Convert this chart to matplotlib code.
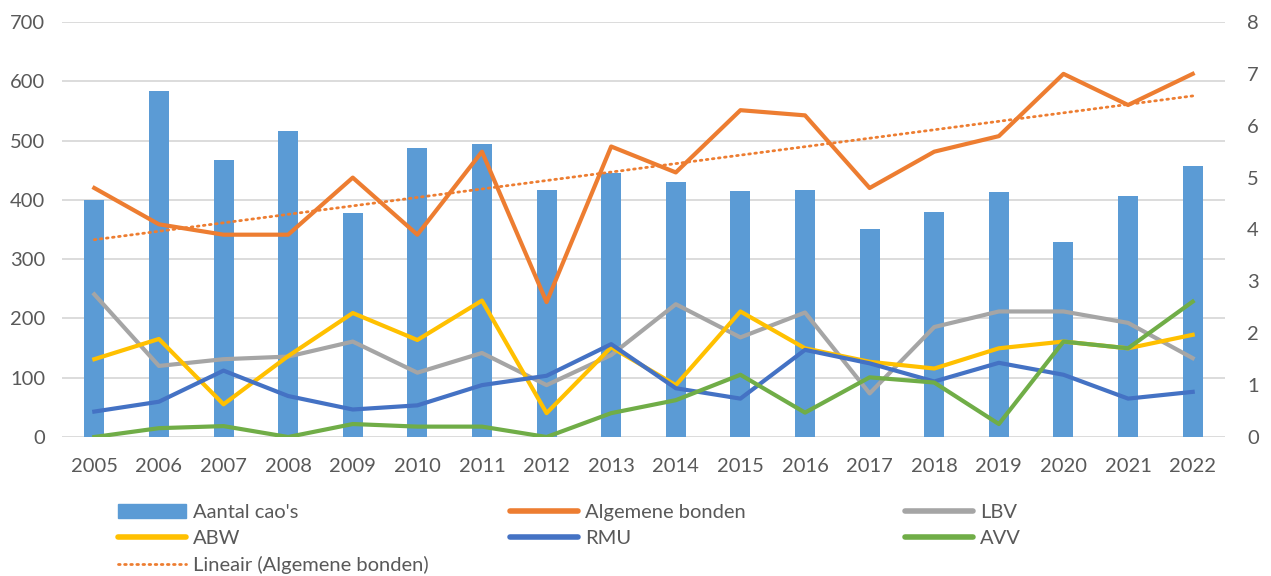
import matplotlib.pyplot as plt
from matplotlib.lines import Line2D
from matplotlib.patches import Patch
import numpy as np

years = list(range(2005, 2023))
aantal_caos = [400, 583, 467, 516, 378, 487, 494, 416, 445, 430, 415, 417, 351, 380, 414, 329, 407, 457]
algemene_bonden = [4.8, 4.1, 3.9, 3.9, 5.0, 3.9, 5.5, 2.6, 5.6, 5.1, 6.3, 6.2, 4.8, 5.5, 5.8, 7.0, 6.4, 7.0]
lbv = [2.75, 1.37, 1.5, 1.55, 1.84, 1.24, 1.62, 1.0, 1.58, 2.56, 1.92, 2.4, 0.84, 2.12, 2.42, 2.42, 2.2, 1.52]
abw = [1.5, 1.89, 0.63, 1.56, 2.39, 1.87, 2.63, 0.46, 1.73, 1.0, 2.42, 1.71, 1.45, 1.32, 1.71, 1.84, 1.71, 1.97]
rmu = [0.49, 0.68, 1.28, 0.79, 0.53, 0.61, 1.0, 1.18, 1.79, 0.94, 0.74, 1.68, 1.42, 1.07, 1.43, 1.2, 0.74, 0.87]
avv = [0.0, 0.17, 0.21, 0.0, 0.25, 0.2, 0.2, 0.0, 0.46, 0.71, 1.2, 0.47, 1.15, 1.05, 0.25, 1.84, 1.71, 2.61]

plt.rcParams["font.family"] = ["Lato", "DejaVu Sans"]
text_color = "#595959"
c_bar = "#5B9BD5"
c_orange = "#ED7D31"
c_gray = "#A5A5A5"
c_yellow = "#FFC000"
c_blue = "#4472C4"
c_green = "#70AD47"
fs = 14.5

fig = plt.figure(figsize=(12.71, 5.76), dpi=100)
ax = fig.add_axes([62 / 1271, 1 - 437 / 576, 1163 / 1271, 415 / 576])
ax2 = ax.twinx()

x = np.arange(len(years))
ax.bar(x, aantal_caos, width=0.31, color=c_bar, zorder=2)
ax.set_ylim(0, 700)
ax.set_yticks(range(0, 701, 100))
ax.set_xlim(-0.5, len(years) - 0.5)
ax.set_xticks(x)
ax.set_xticklabels([str(y) for y in years])
ax.grid(axis="y", color="#D9D9D9", linewidth=1.3)
ax.set_axisbelow(True)

lw = 3.0
ax2.plot(x, algemene_bonden, color=c_orange, lw=lw)
ax2.plot(x, lbv, color=c_gray, lw=lw)
ax2.plot(x, abw, color=c_yellow, lw=lw)
ax2.plot(x, rmu, color=c_blue, lw=lw)
ax2.plot(x, avv, color=c_green, lw=lw)
# linear trendline of Algemene bonden
coef = np.polyfit(x, algemene_bonden, 1)
ax2.plot(x, np.polyval(coef, x), color=c_orange, lw=2.0, linestyle=(0, (0.6, 1.6)),
         dash_capstyle="round")
ax2.set_ylim(0, 8)
ax2.set_yticks(range(0, 9))

for a in (ax, ax2):
    for s in a.spines.values():
        s.set_visible(False)
    a.tick_params(length=0, labelsize=fs, labelcolor=text_color)
ax.tick_params(axis="x", pad=15)
ax.tick_params(axis="y", pad=12)
ax2.tick_params(axis="y", pad=16)

def line_h(c, **kw):
    return Line2D([0], [0], color=c, lw=4, solid_capstyle="round", **kw)

columns = [
    ([Patch(color=c_bar), line_h(c_yellow),
      Line2D([0], [0], color=c_orange, lw=2.0, linestyle=(0, (0.6, 1.6)), dash_capstyle="round")],
     ["Aantal cao's", "ABW", "Lineair (Algemene bonden)"], 118),
    ([line_h(c_orange), line_h(c_blue)], ["Algemene bonden", "RMU"], 510),
    ([line_h(c_gray), line_h(c_green)], ["LBV", "AVV"], 905),
]
for handles, labels, px in columns:
    leg = fig.legend(handles, labels, loc="upper left", bbox_to_anchor=(px / 1271, 1 - 504 / 576),
                     frameon=False, fontsize=fs, handlelength=3.37, handleheight=0.7,
                     handletextpad=0.35, labelspacing=0.44, borderpad=0, borderaxespad=0)
    for t in leg.get_texts():
        t.set_color(text_color)

fig.savefig("out.png", dpi=100)
